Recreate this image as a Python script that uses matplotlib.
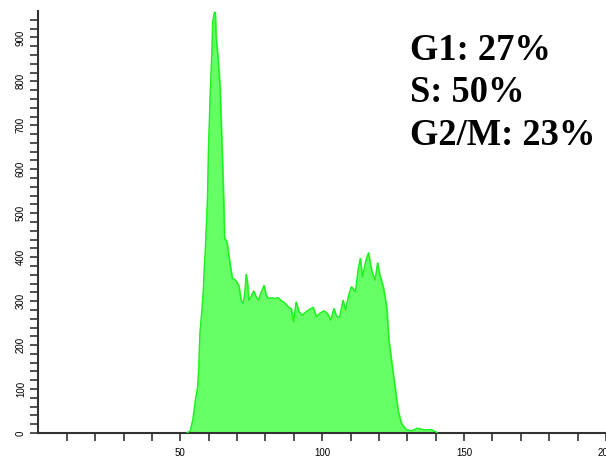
import matplotlib
matplotlib.use("Agg")
import matplotlib.pyplot as plt
import numpy as np

# DNA content histogram (channel vs. cell count)
channel = [52.3, 53.5, 54.4, 55.3, 56.1, 56.5, 56.9, 57.6, 58.1, 58.4,
           58.8, 59.2, 59.6, 59.9, 60.5, 61.1, 61.4, 62.0, 62.3, 62.6,
           63.3, 64.0, 64.4, 64.9, 65.4, 65.6, 66.2, 66.5, 67.5, 68.3,
           69.4, 70.6, 71.4, 72.1, 72.7, 73.2, 73.7, 74.1, 74.9, 75.8,
           76.7, 77.5, 78.3, 79.5, 80.2, 81.0, 82.2, 83.3, 84.5, 85.6,
           86.8, 88.0, 89.1, 89.9, 90.8, 91.8, 92.9, 94.3, 95.5, 96.8,
           98.0, 99.2, 100.7, 101.8, 103.0, 104.1, 105.0, 106.1, 107.3, 108.2,
           109.3, 110.3, 111.7, 112.6, 113.4, 114.2, 115.4, 116.3, 117.5, 118.6,
           119.5, 120.3, 121.5, 122.7, 123.5, 125.0, 125.8, 126.7, 127.9, 129.6,
           131.4, 133.6, 136.0, 138.3, 140.0, 140.5]
count = [0, 5, 30, 75, 105, 150, 227, 280, 325, 370,
         416, 477, 540, 643, 766, 864, 936, 957, 957, 902,
         852, 786, 705, 609, 500, 443, 438, 431, 386, 352,
         348, 336, 302, 295, 317, 361, 340, 302, 310, 323,
         310, 302, 317, 336, 314, 306, 308, 306, 308, 301,
         296, 287, 283, 253, 298, 276, 268, 276, 281, 286,
         264, 273, 278, 272, 257, 283, 266, 263, 302, 280,
         314, 333, 321, 370, 397, 355, 393, 410, 367, 348,
         387, 359, 333, 287, 211, 136, 98, 52, 22, 8,
         5, 11, 7, 8, 3, 0]

phase_labels = ["G1: 27%", "S: 50%", "G2/M: 23%"]

FILL = "#66ff66"
EDGE = "#1ff01f"
AXIS = "#333333"

fig = plt.figure(figsize=(6.06, 4.57), dpi=100)
ax = fig.add_axes([38.4 / 606, 24 / 457, 1 - 38.4 / 606, 422 / 457])

ax.fill_between(channel, count, 0, color=FILL, zorder=2)
ax.plot(channel, count, color=EDGE, lw=1.0, zorder=3)

ax.set_xlim(0, 197)
ax.set_ylim(0, 960)

for side in ("top", "right"):
    ax.spines[side].set_visible(False)
for side in ("left", "bottom"):
    ax.spines[side].set_color(AXIS)
    ax.spines[side].set_linewidth(1.5)

ax.set_xticks([50, 100, 150, 200])
ax.set_xticks(np.arange(10, 200, 10), minor=True)
ax.set_yticks(np.arange(0, 1000, 100))
ax.set_yticks(np.arange(0, 960, 20), minor=True)
ax.tick_params(which="both", direction="out", length=6, width=1.2,
               color=AXIS)
ax.tick_params(axis="x", which="major", pad=5, labelsize=7)
ax.tick_params(axis="y", which="major", pad=3, labelsize=7)
for lab in ax.get_xticklabels() + ax.get_yticklabels():
    lab.set_fontfamily("Liberation Sans")
for lab in ax.get_yticklabels():
    lab.set_rotation(90)
    lab.set_va("center")

baselines = [60, 102, 145]
for text, yb in zip(phase_labels, baselines):
    fig.text(410 / 606, 1 - yb / 457, text, fontsize=26.3, fontweight="bold",
             family="Liberation Serif", ha="left", va="baseline")

fig.savefig("out.png", dpi=100)
